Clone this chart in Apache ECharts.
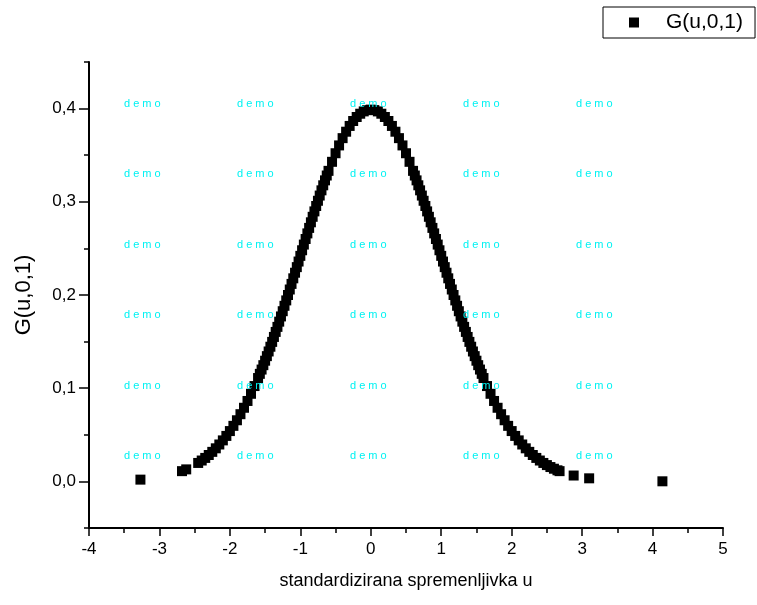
<!DOCTYPE html>
<html>
<head>
<meta charset="utf-8">
<script src="https://cdn.jsdelivr.net/npm/echarts@6/dist/echarts.min.js"></script>
<style>
html,body{margin:0;padding:0;background:#fff;}
#chart{width:757px;height:605px;}
</style>
</head>
<body>
<div id="chart"></div>
<script>
// Data
const seriesName = 'G(u,0,1)';
const uValues = [
  -3.27, -2.68, -2.62,
  -2.45, -2.40, -2.35, -2.30, -2.25, -2.20, -2.15, -2.10, -2.05, -2.00,
  -1.95, -1.90, -1.85, -1.80, -1.75, -1.70, -1.65, -1.60, -1.575, -1.55,
  -1.525, -1.50, -1.475, -1.45, -1.425, -1.40, -1.375, -1.35, -1.325, -1.30,
  -1.275, -1.25, -1.225, -1.20, -1.175, -1.15, -1.125, -1.10, -1.075, -1.05,
  -1.025, -1.00, -0.975, -0.95, -0.925, -0.90, -0.875, -0.85, -0.825, -0.80,
  -0.775, -0.75, -0.725, -0.70, -0.675, -0.65, -0.625, -0.60, -0.55, -0.50,
  -0.45, -0.40, -0.35, -0.30, -0.25, -0.20, -0.15, -0.10, -0.05, 0.00,
  0.05, 0.10, 0.15, 0.20, 0.25, 0.30, 0.35, 0.40, 0.45, 0.50, 0.55, 0.60,
  0.625, 0.65, 0.675, 0.70, 0.725, 0.75, 0.775, 0.80, 0.825, 0.85, 0.875,
  0.90, 0.925, 0.95, 0.975, 1.00, 1.025, 1.05, 1.075, 1.10, 1.125, 1.15,
  1.175, 1.20, 1.225, 1.25, 1.275, 1.30, 1.325, 1.35, 1.375, 1.40, 1.425,
  1.45, 1.475, 1.50, 1.525, 1.55, 1.575, 1.60, 1.65, 1.70, 1.75, 1.80,
  1.85, 1.90, 1.95, 2.00, 2.05, 2.10, 2.15, 2.20, 2.25, 2.30, 2.35, 2.40,
  2.45, 2.50, 2.55, 2.60, 2.65, 2.68,
  2.88, 3.10, 4.14
];
const gValues = [
  0.0019, 0.0110, 0.0129,
  0.0198, 0.0224, 0.0252, 0.0283, 0.0317, 0.0355, 0.0396, 0.0440, 0.0488, 0.0540,
  0.0596, 0.0656, 0.0721, 0.0790, 0.0863, 0.0940, 0.1023, 0.1109, 0.1154, 0.1200,
  0.1247, 0.1295, 0.1344, 0.1394, 0.1445, 0.1497, 0.1550, 0.1604, 0.1658, 0.1714,
  0.1770, 0.1826, 0.1884, 0.1942, 0.2000, 0.2059, 0.2119, 0.2179, 0.2239, 0.2299,
  0.2359, 0.2420, 0.2480, 0.2541, 0.2601, 0.2661, 0.2720, 0.2780, 0.2839, 0.2897,
  0.2955, 0.3011, 0.3067, 0.3123, 0.3177, 0.3230, 0.3282, 0.3332, 0.3429, 0.3521,
  0.3605, 0.3683, 0.3752, 0.3814, 0.3867, 0.3910, 0.3945, 0.3970, 0.3984, 0.3989,
  0.3984, 0.3970, 0.3945, 0.3910, 0.3867, 0.3814, 0.3752, 0.3683, 0.3605, 0.3521, 0.3429, 0.3332,
  0.3282, 0.3230, 0.3177, 0.3123, 0.3067, 0.3011, 0.2955, 0.2897, 0.2839, 0.2780, 0.2720,
  0.2661, 0.2601, 0.2541, 0.2480, 0.2420, 0.2359, 0.2299, 0.2239, 0.2179, 0.2119, 0.2059,
  0.2000, 0.1942, 0.1884, 0.1826, 0.1770, 0.1714, 0.1658, 0.1604, 0.1550, 0.1497, 0.1445,
  0.1394, 0.1344, 0.1295, 0.1247, 0.1200, 0.1154, 0.1109, 0.1023, 0.0940, 0.0863, 0.0790,
  0.0721, 0.0656, 0.0596, 0.0540, 0.0488, 0.0440, 0.0396, 0.0355, 0.0317, 0.0283, 0.0252, 0.0224,
  0.0198, 0.0175, 0.0154, 0.0136, 0.0119, 0.0110,
  0.0063, 0.0033, 0.0001
];
const xTitle = 'standardizirana spremenljivka u';
const yTitle = 'G(u,0,1)';
const yMajorTicks = [0, 0.1, 0.2, 0.3, 0.4];
const yMinorTicks = [-0.05, 0.05, 0.15, 0.25, 0.35, 0.45];
const watermarkText = 'd e m o';
const watermarkCols = [124, 237, 350, 463, 576];
const watermarkRows = [104, 174.5, 245, 315.5, 386, 456.5];

const points = uValues.map((u, i) => [u, gValues[i]]);

const font = '"Liberation Sans", Arial, sans-serif';
const axisLineStyle = { color: '#000', width: 2 };

const graphics = [];
watermarkRows.forEach(y => {
  watermarkCols.forEach(x => {
    graphics.push({
      type: 'text', left: x, top: y - 6, z: 100,
      style: { text: watermarkText, fill: '#00f2f2', font: '11px ' + font }
    });
  });
});

const chart = echarts.init(document.getElementById('chart'), null, { renderer: 'canvas' });
chart.setOption({
  animation: false,
  backgroundColor: '#fff',
  textStyle: { fontFamily: font },
  grid: { left: 89, right: 34, top: 62, bottom: 77, containLabel: false },
  legend: {
    data: [seriesName],
    left: 603, top: 7,
    orient: 'horizontal',
    borderColor: '#000', borderWidth: 1,
    padding: [5, 12, 5, 26],
    itemWidth: 10, itemHeight: 10,
    icon: 'rect',
    itemStyle: { opacity: 1 },
    textStyle: { fontSize: 21, color: '#000', fontFamily: font, padding: [0, 0, 0, 22] }
  },
  xAxis: {
    type: 'value', min: -4, max: 5, interval: 1,
    name: xTitle, nameLocation: 'middle', nameGap: 44,
    nameTextStyle: { fontSize: 18, color: '#000', fontFamily: font },
    axisLine: { show: true, onZero: false, lineStyle: axisLineStyle },
    axisTick: { show: true, inside: false, length: 8, lineStyle: { color: '#000', width: 1.5 } },
    minorTick: { show: true, splitNumber: 2, length: 5, lineStyle: { color: '#000', width: 1.5 } },
    axisLabel: { fontSize: 17, color: '#000', margin: 13, fontFamily: font },
    splitLine: { show: false }, minorSplitLine: { show: false }
  },
  yAxis: [{
    type: 'value', min: -0.05, max: 0.45,
    name: yTitle, nameLocation: 'middle', nameGap: 54, nameRotate: 90,
    nameTextStyle: { fontSize: 22, color: '#000', fontFamily: font },
    axisLine: { show: true, onZero: false, lineStyle: axisLineStyle },
    axisTick: { show: true, inside: false, length: 10, customValues: yMajorTicks, lineStyle: { color: '#000', width: 1.5 } },
    axisLabel: { fontSize: 17, color: '#000', margin: 13, fontFamily: font, customValues: yMajorTicks,
      formatter: v => v.toFixed(1).replace('.', ',') },
    splitLine: { show: false }
  }, {
    type: 'value', min: -0.05, max: 0.45, position: 'left',
    axisLine: { show: false, onZero: false },
    axisTick: { show: true, inside: false, length: 5, customValues: yMinorTicks, lineStyle: { color: '#000', width: 1.5 } },
    axisLabel: { show: false },
    splitLine: { show: false }
  }],
  series: [{
    name: seriesName,
    type: 'scatter',
    xAxisIndex: 0, yAxisIndex: 0,
    symbol: 'rect', symbolSize: 10,
    itemStyle: { color: '#000', opacity: 1 },
    data: points
  }],
  graphic: graphics
});
</script>
</body>
</html>
